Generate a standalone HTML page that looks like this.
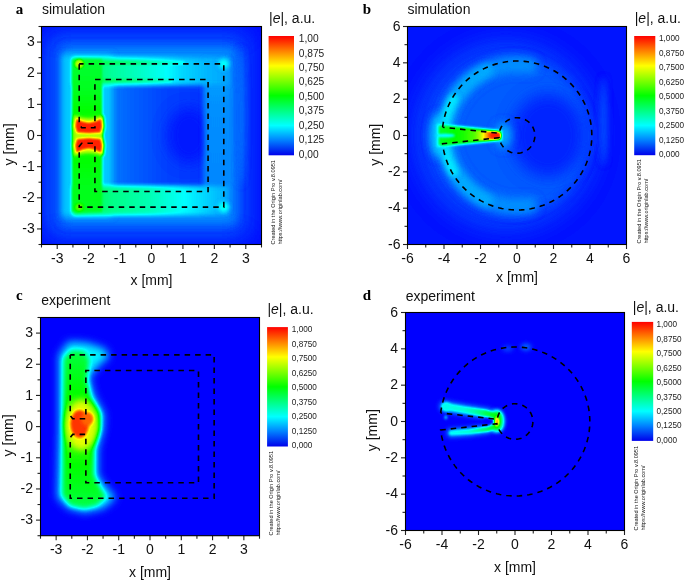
<!DOCTYPE html>
<html><head><meta charset="utf-8"><title>Field maps</title>
<style>html,body{margin:0;padding:0;background:#fff;overflow:hidden}svg{display:block}</style></head>
<body><svg width="685" height="582" viewBox="0 0 685 582" font-family='"Liberation Sans", Arial, sans-serif'>
<defs><filter id="cm" filterUnits="userSpaceOnUse" x="0" y="0" width="685" height="582" color-interpolation-filters="sRGB">
<feComponentTransfer>
<feFuncR type="table" tableValues="0 0 0 0 0 0.5 1 1 1"/>
<feFuncG type="table" tableValues="0 0.5 1 1 1 1 1 0.5 0"/>
<feFuncB type="table" tableValues="1 1 1 0.5 0 0 0 0 0"/>
</feComponentTransfer></filter>
<linearGradient id="cbg" x1="0" y1="1" x2="0" y2="0"><stop offset="0" stop-color="rgb(0,0,235)"/><stop offset="0.125" stop-color="rgb(0,128,255)"/><stop offset="0.25" stop-color="rgb(0,255,255)"/><stop offset="0.375" stop-color="rgb(0,255,128)"/><stop offset="0.5" stop-color="rgb(0,255,0)"/><stop offset="0.625" stop-color="rgb(128,255,0)"/><stop offset="0.75" stop-color="rgb(255,255,0)"/><stop offset="0.875" stop-color="rgb(255,128,0)"/><stop offset="1" stop-color="rgb(255,0,0)"/></linearGradient>
<clipPath id="ca"><rect x="41.5" y="26.5" width="220" height="218"/></clipPath>
<filter id="b12" filterUnits="userSpaceOnUse" x="0" y="0" width="685" height="582" color-interpolation-filters="sRGB"><feGaussianBlur stdDeviation="12"/></filter>
<filter id="b5" filterUnits="userSpaceOnUse" x="0" y="0" width="685" height="582" color-interpolation-filters="sRGB"><feGaussianBlur stdDeviation="5"/></filter>
<linearGradient id="hg1" gradientUnits="userSpaceOnUse" x1="96.5" y1="0" x2="206.5" y2="0"><stop offset="0" stop-color="#262626"/><stop offset="0.25" stop-color="#1a1a1a"/><stop offset="0.6" stop-color="#111111"/><stop offset="1" stop-color="#0d0d0d"/></linearGradient>
<filter id="b4" filterUnits="userSpaceOnUse" x="0" y="0" width="685" height="582" color-interpolation-filters="sRGB"><feGaussianBlur stdDeviation="4"/></filter>
<filter id="b7" filterUnits="userSpaceOnUse" x="0" y="0" width="685" height="582" color-interpolation-filters="sRGB"><feGaussianBlur stdDeviation="7"/></filter>
<filter id="b3" filterUnits="userSpaceOnUse" x="0" y="0" width="685" height="582" color-interpolation-filters="sRGB"><feGaussianBlur stdDeviation="3"/></filter>
<linearGradient id="hg2" gradientUnits="userSpaceOnUse" x1="0" y1="60.76" x2="0" y2="210.24"><stop offset="0" stop-color="#2b2b2b"/><stop offset="0.3" stop-color="#242424"/><stop offset="1" stop-color="#212121"/></linearGradient>
<filter id="b2_5" filterUnits="userSpaceOnUse" x="0" y="0" width="685" height="582" color-interpolation-filters="sRGB"><feGaussianBlur stdDeviation="2.5"/></filter>
<linearGradient id="hg3" gradientUnits="userSpaceOnUse" x1="72.93" y1="0" x2="228.5" y2="0"><stop offset="0" stop-color="#707070"/><stop offset="0.12" stop-color="#666666"/><stop offset="0.25" stop-color="#595959"/><stop offset="0.42" stop-color="#4f4f4f"/><stop offset="0.58" stop-color="#424242"/><stop offset="0.7" stop-color="#363636"/><stop offset="0.85" stop-color="#2e2e2e"/><stop offset="1" stop-color="#292929"/></linearGradient>
<filter id="b2_2" filterUnits="userSpaceOnUse" x="0" y="0" width="685" height="582" color-interpolation-filters="sRGB"><feGaussianBlur stdDeviation="2.2"/></filter>
<linearGradient id="hg4" gradientUnits="userSpaceOnUse" x1="88.64" y1="0" x2="182.93" y2="0"><stop offset="0" stop-color="#707070"/><stop offset="0.5" stop-color="#616161"/><stop offset="1" stop-color="#424242"/></linearGradient>
<filter id="b1_3" filterUnits="userSpaceOnUse" x="0" y="0" width="685" height="582" color-interpolation-filters="sRGB"><feGaussianBlur stdDeviation="1.3"/></filter>
<linearGradient id="hg5" gradientUnits="userSpaceOnUse" x1="72.93" y1="0" x2="228.5" y2="0"><stop offset="0" stop-color="#787878"/><stop offset="0.12" stop-color="#6b6b6b"/><stop offset="0.25" stop-color="#5e5e5e"/><stop offset="0.5" stop-color="#525252"/><stop offset="0.75" stop-color="#3d3d3d"/><stop offset="0.92" stop-color="#303030"/><stop offset="1" stop-color="#2b2b2b"/></linearGradient>
<linearGradient id="hg6" gradientUnits="userSpaceOnUse" x1="0" y1="59.2" x2="0" y2="211.8"><stop offset="0" stop-color="#737373"/><stop offset="0.2" stop-color="#787878"/><stop offset="0.35" stop-color="#808080"/><stop offset="0.42" stop-color="#8f8f8f"/><stop offset="0.5" stop-color="#9e9e9e"/><stop offset="0.58" stop-color="#8f8f8f"/><stop offset="0.65" stop-color="#808080"/><stop offset="0.8" stop-color="#7a7a7a"/><stop offset="1" stop-color="#787878"/></linearGradient>
<filter id="b2" filterUnits="userSpaceOnUse" x="0" y="0" width="685" height="582" color-interpolation-filters="sRGB"><feGaussianBlur stdDeviation="2"/></filter>
<filter id="b1_2" filterUnits="userSpaceOnUse" x="0" y="0" width="685" height="582" color-interpolation-filters="sRGB"><feGaussianBlur stdDeviation="1.2"/></filter>
<filter id="b1_5" filterUnits="userSpaceOnUse" x="0" y="0" width="685" height="582" color-interpolation-filters="sRGB"><feGaussianBlur stdDeviation="1.5"/></filter>
<filter id="b0_8" filterUnits="userSpaceOnUse" x="0" y="0" width="685" height="582" color-interpolation-filters="sRGB"><feGaussianBlur stdDeviation="0.8"/></filter>
<clipPath id="cb"><rect x="407.5" y="26.5" width="219" height="218"/></clipPath>
<filter id="b10" filterUnits="userSpaceOnUse" x="0" y="0" width="685" height="582" color-interpolation-filters="sRGB"><feGaussianBlur stdDeviation="10"/></filter>
<filter id="b8" filterUnits="userSpaceOnUse" x="0" y="0" width="685" height="582" color-interpolation-filters="sRGB"><feGaussianBlur stdDeviation="8"/></filter>
<linearGradient id="hg7" gradientUnits="userSpaceOnUse" x1="438.52" y1="0" x2="500.57" y2="0"><stop offset="0" stop-color="#757575"/><stop offset="0.4" stop-color="#858585"/><stop offset="0.58" stop-color="#949494"/><stop offset="0.68" stop-color="#adadad"/><stop offset="0.8" stop-color="#e0e0e0"/><stop offset="0.92" stop-color="#f7f7f7"/><stop offset="1" stop-color="#d9d9d9"/></linearGradient>
<filter id="b1_0" filterUnits="userSpaceOnUse" x="0" y="0" width="685" height="582" color-interpolation-filters="sRGB"><feGaussianBlur stdDeviation="1.0"/></filter>
<filter id="b1" filterUnits="userSpaceOnUse" x="0" y="0" width="685" height="582" color-interpolation-filters="sRGB"><feGaussianBlur stdDeviation="1"/></filter>
<clipPath id="cc"><rect x="40.5" y="317.5" width="219" height="218.2"/></clipPath>
<linearGradient id="hg8" gradientUnits="userSpaceOnUse" x1="0" y1="342.44" x2="0" y2="510.76"><stop offset="0" stop-color="#6b6b6b"/><stop offset="0.13" stop-color="#757575"/><stop offset="0.3" stop-color="#808080"/><stop offset="0.4" stop-color="#8f8f8f"/><stop offset="0.5" stop-color="#999999"/><stop offset="0.6" stop-color="#8f8f8f"/><stop offset="0.72" stop-color="#808080"/><stop offset="0.87" stop-color="#787878"/><stop offset="1" stop-color="#6b6b6b"/></linearGradient>
<clipPath id="cd"><rect x="405.5" y="312.5" width="219" height="218"/></clipPath>
<linearGradient id="hg9" gradientUnits="userSpaceOnUse" x1="443.82" y1="0" x2="496.75" y2="0"><stop offset="0" stop-color="#454545"/><stop offset="0.41" stop-color="#4a4a4a"/><stop offset="0.66" stop-color="#5c5c5c"/><stop offset="0.83" stop-color="#707070"/><stop offset="1" stop-color="#808080"/></linearGradient>
<linearGradient id="hg10" gradientUnits="userSpaceOnUse" x1="451.12" y1="0" x2="496.75" y2="0"><stop offset="0" stop-color="#424242"/><stop offset="0.4" stop-color="#4c4c4c"/><stop offset="0.68" stop-color="#616161"/><stop offset="0.88" stop-color="#737373"/><stop offset="1" stop-color="#808080"/></linearGradient></defs>
<g clip-path="url(#ca)"><g filter="url(#cm)">
<rect x="36.5" y="21.5" width="230" height="228" fill="#040404"/>
<rect x="47.79" y="35.84" width="198" height="199.31" fill="#1a1a1a" filter="url(#b12)"/>
<rect x="63.5" y="48.3" width="171.29" height="174.4" fill="#242424" filter="url(#b5)"/>
<rect x="96.5" y="81" width="110" height="109" fill="url(#hg1)" filter="url(#b4)"/>
<ellipse cx="189.21" cy="135.5" rx="22" ry="28.03" fill="#060606" filter="url(#b7)"/>
<ellipse cx="241.07" cy="116.81" rx="3.77" ry="68.51" fill="#1c1c1c" filter="url(#b3)"/>
<rect x="61.93" y="54.53" width="50.29" height="161.94" fill="#333333" filter="url(#b3)"/>
<rect x="204.3" y="59.2" width="24.2" height="152.6" fill="url(#hg2)" filter="url(#b2_5)"/>
<rect x="72.93" y="57.64" width="155.57" height="27.41" fill="url(#hg3)" filter="url(#b2_2)"/>
<path d="M88.64 62.94 L182.93 62.94" fill="none" stroke="url(#hg4)" stroke-width="3.77" stroke-linecap="round" stroke-linejoin="round" filter="url(#b1_3)"/>
<path d="M98.07 80.38 L170.36 80.38" fill="none" stroke="url(#hg4)" stroke-width="3.14" stroke-linecap="round" stroke-linejoin="round" filter="url(#b1_3)"/>
<rect x="72.93" y="185.95" width="155.57" height="28.96" fill="url(#hg5)" filter="url(#b2_2)"/>
<rect x="71.99" y="59.2" width="30.17" height="152.6" fill="url(#hg6)" filter="url(#b1_3)"/>
<ellipse cx="223.79" cy="63.87" rx="5.03" ry="4.98" fill="#424242" filter="url(#b2)"/>
<ellipse cx="223.79" cy="207.13" rx="5.03" ry="4.98" fill="#454545" filter="url(#b2)"/>
<ellipse cx="79.21" cy="63.87" rx="4.4" ry="4.36" fill="#adadad" filter="url(#b1_2)"/>
<ellipse cx="79.21" cy="207.13" rx="3.77" ry="3.74" fill="#999999" filter="url(#b1_5)"/>
<path d="M74.5 115.57 L82.36 118.06 L88.64 118.68 L94.93 118.06 L103.1 115.57 L104.36 126.16 L102.47 135.5 L88.64 136.12 L75.44 135.5 L72.93 126.16Z" fill="#b2b2b2" filter="url(#b1_5)"/>
<path d="M74.5 155.74 L82.36 153.25 L88.64 152.63 L94.93 153.25 L103.1 155.74 L104.36 145.15 L102.47 135.81 L88.64 135.19 L75.44 135.81 L72.93 145.15Z" fill="#b2b2b2" filter="url(#b1_5)"/>
<path d="M76.39 118.68 L82.36 121.49 L88.64 122.73 L94.93 121.49 L101.21 118.68 L102.16 126.16 L100.59 132.39 L88.64 133.32 L77.01 132.39 L75.13 126.16Z" fill="#f7f7f7" filter="url(#b0_8)"/>
<path d="M76.39 152.63 L82.36 149.83 L88.64 148.58 L94.93 149.83 L101.21 152.63 L102.16 145.15 L100.59 138.93 L88.64 137.99 L77.01 138.93 L75.13 145.15Z" fill="#f7f7f7" filter="url(#b0_8)"/>
</g></g>
<path d="M79.21 63.87 L223.79 63.87 L223.79 207.13 L79.21 207.13 L79.21 146.4 L81.73 143.29 L94.93 143.29 L94.93 191.56 L208.07 191.56 L208.07 79.44 L94.93 79.44 L94.93 127.71 L81.73 127.71 L79.21 124.6 L79.21 63.87" fill="none" stroke="#000" stroke-width="1.6" stroke-dasharray="5.5 5" stroke-dashoffset="1.1"/>
<g stroke="#222" stroke-width="1.1"><line x1="41.5" y1="244.5" x2="41.5" y2="247.5"/><line x1="41.5" y1="244.5" x2="38.5" y2="244.5"/><line x1="57.21" y1="244.5" x2="57.21" y2="249"/><line x1="41.5" y1="228.93" x2="37" y2="228.93"/><line x1="72.93" y1="244.5" x2="72.93" y2="247.5"/><line x1="41.5" y1="213.36" x2="38.5" y2="213.36"/><line x1="88.64" y1="244.5" x2="88.64" y2="249"/><line x1="41.5" y1="197.79" x2="37" y2="197.79"/><line x1="104.36" y1="244.5" x2="104.36" y2="247.5"/><line x1="41.5" y1="182.21" x2="38.5" y2="182.21"/><line x1="120.07" y1="244.5" x2="120.07" y2="249"/><line x1="41.5" y1="166.64" x2="37" y2="166.64"/><line x1="135.79" y1="244.5" x2="135.79" y2="247.5"/><line x1="41.5" y1="151.07" x2="38.5" y2="151.07"/><line x1="151.5" y1="244.5" x2="151.5" y2="249"/><line x1="41.5" y1="135.5" x2="37" y2="135.5"/><line x1="167.21" y1="244.5" x2="167.21" y2="247.5"/><line x1="41.5" y1="119.93" x2="38.5" y2="119.93"/><line x1="182.93" y1="244.5" x2="182.93" y2="249"/><line x1="41.5" y1="104.36" x2="37" y2="104.36"/><line x1="198.64" y1="244.5" x2="198.64" y2="247.5"/><line x1="41.5" y1="88.79" x2="38.5" y2="88.79"/><line x1="214.36" y1="244.5" x2="214.36" y2="249"/><line x1="41.5" y1="73.21" x2="37" y2="73.21"/><line x1="230.07" y1="244.5" x2="230.07" y2="247.5"/><line x1="41.5" y1="57.64" x2="38.5" y2="57.64"/><line x1="245.79" y1="244.5" x2="245.79" y2="249"/><line x1="41.5" y1="42.07" x2="37" y2="42.07"/><line x1="261.5" y1="244.5" x2="261.5" y2="247.5"/><line x1="41.5" y1="26.5" x2="38.5" y2="26.5"/></g>
<rect x="41.5" y="26.5" width="220" height="218" fill="none" stroke="#000" stroke-width="1.1"/>
<g font-size="14" fill="#111"><text x="57.21" y="263.2" text-anchor="middle">-3</text><text x="34.8" y="233.03" text-anchor="end">-3</text><text x="88.64" y="263.2" text-anchor="middle">-2</text><text x="34.8" y="201.89" text-anchor="end">-2</text><text x="120.07" y="263.2" text-anchor="middle">-1</text><text x="34.8" y="170.74" text-anchor="end">-1</text><text x="151.5" y="263.2" text-anchor="middle">0</text><text x="34.8" y="139.6" text-anchor="end">0</text><text x="182.93" y="263.2" text-anchor="middle">1</text><text x="34.8" y="108.46" text-anchor="end">1</text><text x="214.36" y="263.2" text-anchor="middle">2</text><text x="34.8" y="77.31" text-anchor="end">2</text><text x="245.79" y="263.2" text-anchor="middle">3</text><text x="34.8" y="46.17" text-anchor="end">3</text></g>
<text x="15.8" y="13.7" font-family='"Liberation Serif", "Times New Roman", serif' font-weight="bold" font-size="15" fill="#000">a</text>
<text x="42" y="13.7" font-size="14" fill="#111">simulation</text>
<text x="151.5" y="285.4" font-size="14" fill="#111" text-anchor="middle">x [mm]</text>
<text transform="translate(13.7 144.4) rotate(-90)" font-size="14" fill="#111" text-anchor="middle">y [mm]</text>
<rect x="268.6" y="36" width="25.4" height="119.3" fill="url(#cbg)"/>
<g font-size="10.2" fill="#222"><text x="298.8" y="42.07">1,00</text><text x="298.8" y="56.53">0,875</text><text x="298.8" y="70.99">0,750</text><text x="298.8" y="85.45">0,625</text><text x="298.8" y="99.91">0,500</text><text x="298.8" y="114.37">0,375</text><text x="298.8" y="128.83">0,250</text><text x="298.8" y="143.29">0,125</text><text x="298.8" y="157.75">0,00</text></g>
<text x="269" y="23" font-size="14" fill="#111">|<tspan font-style="italic">e</tspan>|, a.u.</text>
<g font-size="5.6" fill="#111">
<text transform="translate(274.6 244.5) rotate(-90)">Created in the Origin Pro v.8.0951</text>
<text transform="translate(282 244.5) rotate(-90)">https://www.originlab.com/</text>
</g>
<g clip-path="url(#cb)"><g filter="url(#cm)">
<rect x="402.5" y="21.5" width="229" height="228" fill="#050505"/>
<ellipse cx="506.05" cy="135.5" rx="91.25" ry="94.47" fill="#111111" filter="url(#b10)"/>
<ellipse cx="509.7" cy="135.5" rx="78.47" ry="78.12" fill="#171717" filter="url(#b5)"/>
<ellipse cx="548.02" cy="135.5" rx="36.5" ry="41.78" fill="#090909" filter="url(#b8)"/>
<ellipse cx="603.69" cy="120.97" rx="2.74" ry="43.6" fill="#171717" filter="url(#b3)"/>
<path d="M529.36 65.73 L524.44 65.04 L519.48 64.69 L514.52 64.69 L509.56 65.04 L504.64 65.73 L499.78 66.75 L495.01 68.12 L490.34 69.81 L485.8 71.82 L481.41 74.14 L477.2 76.76 L473.18 79.67 L469.37 82.85 L465.8 86.28 L462.48 89.96 L459.42 93.86 L456.64 97.96 L454.16 102.24 L451.98 106.68 L450.12 111.27 L448.58 115.97 L447.38 120.77 L446.52 125.64 L446 130.56 L445.82 135.5 L446 140.44 L446.52 145.36 L447.38 150.23 L448.58 155.03 L450.12 159.73 L451.98 164.32 L454.16 168.76 L456.64 173.04 L459.42 177.14 L462.48 181.04 L465.8 184.72 L469.37 188.15 L473.18 191.33 L477.2 194.24 L481.41 196.86 L485.8 199.18 L490.34 201.19 L495.01 202.88 L499.78 204.25 L504.64 205.27 L509.56 205.96 L514.52 206.31 L519.48 206.31 L524.44 205.96 L529.36 205.27" fill="none" stroke="#242424" stroke-width="16.43" stroke-linecap="round" stroke-linejoin="round" filter="url(#b4)"/>
<path d="M486.53 70.46 L482.88 72.29 L479.33 74.32 L475.91 76.54 L472.62 78.95 L469.47 81.55 L466.47 84.32 L463.64 87.25 L460.98 90.34 L458.5 93.58 L456.2 96.94 L454.1 100.44 L452.21 104.04 L450.52 107.75 L449.05 111.55 L447.79 115.42 L446.76 119.36 L445.95 123.35 L445.38 127.38 L445.03 131.43 L444.91 135.5 L445.03 139.57 L445.38 143.62 L445.95 147.65 L446.76 151.64 L447.79 155.58 L449.05 159.45 L450.52 163.25 L452.21 166.96 L454.1 170.56 L456.2 174.06 L458.5 177.42 L460.98 180.66 L463.64 183.75 L466.47 186.68 L469.47 189.45 L472.62 192.05 L475.91 194.46 L479.33 196.68 L482.88 198.71 L486.53 200.54" fill="none" stroke="#2b2b2b" stroke-width="12.77" stroke-linecap="round" stroke-linejoin="round" filter="url(#b3)"/>
<path d="M453.78 99.17 L452.54 101.39 L451.39 103.65 L450.31 105.94 L449.32 108.28 L448.4 110.65 L447.57 113.04 L446.83 115.47 L446.17 117.92 L445.6 120.39 L445.11 122.88 L444.71 125.39 L444.4 127.9 L444.18 130.43 L444.04 132.96 L444 135.5 L444.04 138.04 L444.18 140.57 L444.4 143.1 L444.71 145.61 L445.11 148.12 L445.6 150.61 L446.17 153.08 L446.83 155.53 L447.57 157.96 L448.4 160.35 L449.32 162.72 L450.31 165.06 L451.39 167.35 L452.54 169.61 L453.78 171.83" fill="none" stroke="#3b3b3b" stroke-width="9.12" stroke-linecap="round" stroke-linejoin="round" filter="url(#b2_5)"/>
<ellipse cx="438.52" cy="135.5" rx="8.21" ry="21.8" fill="#333333" filter="url(#b4)"/>
<ellipse cx="503.31" cy="135.5" rx="8.21" ry="12.72" fill="#2b2b2b" filter="url(#b4)"/>
<path d="M436.7 124.24 L438.52 123.51 L489.62 128.6 L502.4 130.05 L502.4 140.95 L489.62 142.4 L438.52 147.49 L436.7 146.76Z" fill="#424242" filter="url(#b1_3)"/>
<path d="M438.89 126.42 L442.18 125.33 L489.62 130.78 L500.57 131.87 L500.57 139.13 L489.62 140.22 L442.18 145.67 L438.89 144.58Z" fill="url(#hg7)" filter="url(#b1_0)"/>
<ellipse cx="444.91" cy="135.5" rx="10.04" ry="1.82" fill="#383838" filter="url(#b1)"/>
<ellipse cx="495.1" cy="135.5" rx="5.84" ry="2.54" fill="#f7f7f7" filter="url(#b1)"/>
</g></g>
<path d="M442.64 127.2 L443.07 124 L443.64 120.83 L444.35 117.68 L445.19 114.57 L446.17 111.5 L447.28 108.47 L448.52 105.49 L449.89 102.57 L451.38 99.71 L453 96.92 L454.73 94.19 L456.59 91.55 L458.56 88.99 L460.63 86.52 L462.81 84.13 L465.1 81.85 L467.48 79.66 L469.95 77.58 L472.51 75.61 L475.16 73.75 L477.88 72.01 L480.68 70.38 L483.54 68.88 L486.47 67.5 L489.46 66.25 L492.49 65.13 L495.57 64.14 L498.7 63.28 L501.85 62.56 L505.04 61.97 L508.24 61.53 L511.47 61.22 L514.7 61.05 L517.94 61.02 L521.18 61.13 L524.41 61.38 L527.62 61.77 L530.82 62.3 L533.98 62.96 L537.12 63.76 L540.22 64.69 L543.28 65.76 L546.28 66.96 L549.24 68.28 L552.13 69.74 L554.95 71.31 L557.71 73 L560.39 74.82 L562.98 76.74 L565.5 78.78 L567.92 80.92 L570.24 83.16 L572.47 85.51 L574.59 87.94 L576.6 90.47 L578.5 93.08 L580.29 95.77 L581.96 98.53 L583.5 101.36 L584.92 104.26 L586.22 107.21 L587.38 110.22 L588.42 113.28 L589.32 116.37 L590.08 119.51 L590.71 122.67 L591.2 125.86 L591.54 129.06 L591.75 132.28 L591.83 135.5 L591.75 138.72 L591.54 141.94 L591.2 145.14 L590.71 148.33 L590.08 151.49 L589.32 154.63 L588.42 157.72 L587.38 160.78 L586.22 163.79 L584.92 166.74 L583.5 169.64 L581.96 172.47 L580.29 175.23 L578.5 177.92 L576.6 180.53 L574.59 183.06 L572.47 185.49 L570.24 187.84 L567.92 190.08 L565.5 192.22 L562.98 194.26 L560.39 196.18 L557.71 198 L554.95 199.69 L552.13 201.26 L549.24 202.72 L546.28 204.04 L543.28 205.24 L540.22 206.31 L537.12 207.24 L533.98 208.04 L530.82 208.7 L527.62 209.23 L524.41 209.62 L521.18 209.87 L517.94 209.98 L514.7 209.95 L511.47 209.78 L508.24 209.47 L505.04 209.03 L501.85 208.44 L498.7 207.72 L495.57 206.86 L492.49 205.87 L489.46 204.75 L486.47 203.5 L483.54 202.12 L480.68 200.62 L477.88 198.99 L475.16 197.25 L472.51 195.39 L469.95 193.42 L467.48 191.34 L465.1 189.15 L462.81 186.87 L460.63 184.48 L458.56 182.01 L456.59 179.45 L454.73 176.81 L453 174.08 L451.38 171.29 L449.89 168.43 L448.52 165.51 L447.28 162.53 L446.17 159.5 L445.19 156.43 L444.35 153.32 L443.64 150.17 L443.07 147 L442.64 143.8 L499.3 137.68 L499.65 139.81 L500.3 141.86 L501.19 143.82 L502.31 145.65 L503.64 147.34 L505.17 148.85 L506.87 150.17 L508.72 151.28 L510.69 152.16 L512.75 152.79 L514.87 153.18 L517.03 153.3 L519.18 153.17 L521.3 152.78 L523.36 152.14 L525.33 151.25 L527.17 150.14 L528.87 148.82 L530.4 147.3 L531.73 145.6 L532.84 143.77 L533.73 141.81 L534.37 139.76 L534.75 137.64 L534.88 135.5 L534.75 133.36 L534.37 131.24 L533.73 129.19 L532.84 127.23 L531.73 125.4 L530.4 123.7 L528.87 122.18 L527.17 120.86 L525.33 119.75 L523.36 118.86 L521.3 118.22 L519.18 117.83 L517.03 117.7 L514.87 117.82 L512.75 118.21 L510.69 118.84 L508.72 119.72 L506.87 120.83 L505.17 122.15 L503.64 123.66 L502.31 125.35 L501.19 127.18 L500.3 129.14 L499.65 131.19 L499.25 133.3 L442.63 127.23" fill="none" stroke="#000" stroke-width="1.6" stroke-dasharray="5.5 5" stroke-dashoffset="0"/>
<g stroke="#222" stroke-width="1.1"><line x1="407.5" y1="244.5" x2="407.5" y2="249"/><line x1="407.5" y1="244.5" x2="403" y2="244.5"/><line x1="425.75" y1="244.5" x2="425.75" y2="247.5"/><line x1="407.5" y1="226.33" x2="404.5" y2="226.33"/><line x1="444" y1="244.5" x2="444" y2="249"/><line x1="407.5" y1="208.17" x2="403" y2="208.17"/><line x1="462.25" y1="244.5" x2="462.25" y2="247.5"/><line x1="407.5" y1="190" x2="404.5" y2="190"/><line x1="480.5" y1="244.5" x2="480.5" y2="249"/><line x1="407.5" y1="171.83" x2="403" y2="171.83"/><line x1="498.75" y1="244.5" x2="498.75" y2="247.5"/><line x1="407.5" y1="153.67" x2="404.5" y2="153.67"/><line x1="517" y1="244.5" x2="517" y2="249"/><line x1="407.5" y1="135.5" x2="403" y2="135.5"/><line x1="535.25" y1="244.5" x2="535.25" y2="247.5"/><line x1="407.5" y1="117.33" x2="404.5" y2="117.33"/><line x1="553.5" y1="244.5" x2="553.5" y2="249"/><line x1="407.5" y1="99.17" x2="403" y2="99.17"/><line x1="571.75" y1="244.5" x2="571.75" y2="247.5"/><line x1="407.5" y1="81" x2="404.5" y2="81"/><line x1="590" y1="244.5" x2="590" y2="249"/><line x1="407.5" y1="62.83" x2="403" y2="62.83"/><line x1="608.25" y1="244.5" x2="608.25" y2="247.5"/><line x1="407.5" y1="44.67" x2="404.5" y2="44.67"/><line x1="626.5" y1="244.5" x2="626.5" y2="249"/><line x1="407.5" y1="26.5" x2="403" y2="26.5"/></g>
<rect x="407.5" y="26.5" width="219" height="218" fill="none" stroke="#000" stroke-width="1.1"/>
<g font-size="14" fill="#111"><text x="407.5" y="262.8" text-anchor="middle">-6</text><text x="400.5" y="248.6" text-anchor="end">-6</text><text x="444" y="262.8" text-anchor="middle">-4</text><text x="400.5" y="212.27" text-anchor="end">-4</text><text x="480.5" y="262.8" text-anchor="middle">-2</text><text x="400.5" y="175.93" text-anchor="end">-2</text><text x="517" y="262.8" text-anchor="middle">0</text><text x="400.5" y="139.6" text-anchor="end">0</text><text x="553.5" y="262.8" text-anchor="middle">2</text><text x="400.5" y="103.27" text-anchor="end">2</text><text x="590" y="262.8" text-anchor="middle">4</text><text x="400.5" y="66.93" text-anchor="end">4</text><text x="626.5" y="262.8" text-anchor="middle">6</text><text x="400.5" y="30.6" text-anchor="end">6</text></g>
<text x="362.8" y="13.7" font-family='"Liberation Serif", "Times New Roman", serif' font-weight="bold" font-size="15" fill="#000">b</text>
<text x="407.4" y="13.7" font-size="14" fill="#111">simulation</text>
<text x="517" y="281.8" font-size="14" fill="#111" text-anchor="middle">x [mm]</text>
<text transform="translate(379.8 144.75) rotate(-90)" font-size="14" fill="#111" text-anchor="middle">y [mm]</text>
<rect x="634.2" y="36" width="21.1" height="119.2" fill="url(#cbg)"/>
<g font-size="8.2" fill="#222"><text x="659" y="41.35">1,000</text><text x="659" y="55.81">0,8750</text><text x="659" y="70.27">0,7500</text><text x="659" y="84.73">0,6250</text><text x="659" y="99.19">0,5000</text><text x="659" y="113.65">0,3750</text><text x="659" y="128.11">0,2500</text><text x="659" y="142.57">0,1250</text><text x="659" y="157.03">0,000</text></g>
<text x="634.7" y="23" font-size="14" fill="#111">|<tspan font-style="italic">e</tspan>|, a.u.</text>
<g font-size="5.6" fill="#111">
<text transform="translate(640.7 243.6) rotate(-90)">Created in the Origin Pro v.8.0951</text>
<text transform="translate(647.6 243.6) rotate(-90)">https://www.originlab.com/</text>
</g>
<g clip-path="url(#cc)"><g filter="url(#cm)">
<rect x="35.5" y="312.5" width="229" height="228.2" fill="#000000"/>
<path d="M59.27 354.91 L68.66 341.81 L87.43 343.06 L104.64 348.67 L109.33 356.46 L99.94 364.26 L88.99 376.73 L93.69 395.43 L103.7 413.51 L103.07 429.72 L97.44 449.04 L97.44 475.23 L106.2 487.38 L115.59 497.67 L103.07 508.27 L84.93 512.32 L68.66 508.27 L57.71 497.67 L59.27 430.34Z" fill="#3d3d3d" filter="url(#b4)"/>
<path d="M63.65 358.02 L71.79 350.23 L84.3 351.17 L88.99 359.58 L86.8 379.84 L90.56 396.99 L99.94 413.51 L99.32 429.72 L93.69 449.04 L93.69 475.23 L99.94 487.38 L105.57 496.74 L96.81 505.15 L84.3 508.27 L70.22 505.15 L62.4 495.18 L63.65 430.34Z" fill="url(#hg8)" filter="url(#b2_5)"/>
<ellipse cx="81.17" cy="425.04" rx="15.64" ry="24.94" fill="#b8b8b8" filter="url(#b3)"/>
<ellipse cx="79.61" cy="424.11" rx="9.39" ry="14.03" fill="#f2f2f2" filter="url(#b1_5)"/>
<ellipse cx="87.43" cy="418.81" rx="6.26" ry="6.86" fill="#e6e6e6" filter="url(#b1_5)"/>
</g></g>
<path d="M70.22 354.91 L214.14 354.91 L214.14 498.29 L70.22 498.29 L70.22 437.51 L72.72 434.39 L85.86 434.39 L85.86 482.71 L198.49 482.71 L198.49 370.49 L85.86 370.49 L85.86 418.81 L72.72 418.81 L70.22 415.69 L70.22 354.91" fill="none" stroke="#000" stroke-width="1.6" stroke-dasharray="5.5 5" stroke-dashoffset="1.1"/>
<g stroke="#222" stroke-width="1.1"><line x1="40.5" y1="535.7" x2="40.5" y2="538.7"/><line x1="40.5" y1="535.7" x2="37.5" y2="535.7"/><line x1="56.14" y1="535.7" x2="56.14" y2="540.2"/><line x1="40.5" y1="520.11" x2="36" y2="520.11"/><line x1="71.79" y1="535.7" x2="71.79" y2="538.7"/><line x1="40.5" y1="504.53" x2="37.5" y2="504.53"/><line x1="87.43" y1="535.7" x2="87.43" y2="540.2"/><line x1="40.5" y1="488.94" x2="36" y2="488.94"/><line x1="103.07" y1="535.7" x2="103.07" y2="538.7"/><line x1="40.5" y1="473.36" x2="37.5" y2="473.36"/><line x1="118.71" y1="535.7" x2="118.71" y2="540.2"/><line x1="40.5" y1="457.77" x2="36" y2="457.77"/><line x1="134.36" y1="535.7" x2="134.36" y2="538.7"/><line x1="40.5" y1="442.19" x2="37.5" y2="442.19"/><line x1="150" y1="535.7" x2="150" y2="540.2"/><line x1="40.5" y1="426.6" x2="36" y2="426.6"/><line x1="165.64" y1="535.7" x2="165.64" y2="538.7"/><line x1="40.5" y1="411.01" x2="37.5" y2="411.01"/><line x1="181.29" y1="535.7" x2="181.29" y2="540.2"/><line x1="40.5" y1="395.43" x2="36" y2="395.43"/><line x1="196.93" y1="535.7" x2="196.93" y2="538.7"/><line x1="40.5" y1="379.84" x2="37.5" y2="379.84"/><line x1="212.57" y1="535.7" x2="212.57" y2="540.2"/><line x1="40.5" y1="364.26" x2="36" y2="364.26"/><line x1="228.21" y1="535.7" x2="228.21" y2="538.7"/><line x1="40.5" y1="348.67" x2="37.5" y2="348.67"/><line x1="243.86" y1="535.7" x2="243.86" y2="540.2"/><line x1="40.5" y1="333.09" x2="36" y2="333.09"/><line x1="259.5" y1="535.7" x2="259.5" y2="538.7"/><line x1="40.5" y1="317.5" x2="37.5" y2="317.5"/></g>
<rect x="40.5" y="317.5" width="219" height="218.2" fill="none" stroke="#000" stroke-width="1.1"/>
<g font-size="14" fill="#111"><text x="56.14" y="553.9" text-anchor="middle">-3</text><text x="33" y="524.21" text-anchor="end">-3</text><text x="87.43" y="553.9" text-anchor="middle">-2</text><text x="33" y="493.04" text-anchor="end">-2</text><text x="118.71" y="553.9" text-anchor="middle">-1</text><text x="33" y="461.87" text-anchor="end">-1</text><text x="150" y="553.9" text-anchor="middle">0</text><text x="33" y="430.7" text-anchor="end">0</text><text x="181.29" y="553.9" text-anchor="middle">1</text><text x="33" y="399.53" text-anchor="end">1</text><text x="212.57" y="553.9" text-anchor="middle">2</text><text x="33" y="368.36" text-anchor="end">2</text><text x="243.86" y="553.9" text-anchor="middle">3</text><text x="33" y="337.19" text-anchor="end">3</text></g>
<text x="16.1" y="299.5" font-family='"Liberation Serif", "Times New Roman", serif' font-weight="bold" font-size="15" fill="#000">c</text>
<text x="41.2" y="305.1" font-size="14" fill="#111">experiment</text>
<text x="150" y="576.7" font-size="14" fill="#111" text-anchor="middle">x [mm]</text>
<text transform="translate(13.1 435.4) rotate(-90)" font-size="14" fill="#111" text-anchor="middle">y [mm]</text>
<rect x="267.1" y="327.1" width="20.8" height="119.4" fill="url(#cbg)"/>
<g font-size="8.2" fill="#222"><text x="291.8" y="332.45">1,000</text><text x="291.8" y="346.91">0,8750</text><text x="291.8" y="361.37">0,7500</text><text x="291.8" y="375.83">0,6250</text><text x="291.8" y="390.29">0,5000</text><text x="291.8" y="404.75">0,3750</text><text x="291.8" y="419.21">0,2500</text><text x="291.8" y="433.67">0,1250</text><text x="291.8" y="448.13">0,000</text></g>
<text x="267.4" y="314" font-size="14" fill="#111">|<tspan font-style="italic">e</tspan>|, a.u.</text>
<g font-size="5.6" fill="#111">
<text transform="translate(272.7 535.4) rotate(-90)">Created in the Origin Pro v.8.0951</text>
<text transform="translate(280 535.4) rotate(-90)">https://www.originlab.com/</text>
</g>
<g clip-path="url(#cd)"><g filter="url(#cm)">
<rect x="400.5" y="307.5" width="229" height="228" fill="#000000"/>
<ellipse cx="525.95" cy="347.02" rx="5.47" ry="3.63" fill="#1a1a1a" filter="url(#b2)"/>
<ellipse cx="507.7" cy="348.83" rx="5.47" ry="2.72" fill="#121212" filter="url(#b2)"/>
<path d="M444.74 406.42 L465.73 410.06 L486.17 413.32 L496.75 416.96" fill="none" stroke="#333333" stroke-width="9.49" stroke-linecap="round" stroke-linejoin="round" filter="url(#b2_5)"/>
<path d="M451.12 432.94 L469.38 431.67 L487.62 429.13 L496.75 425.5" fill="none" stroke="#333333" stroke-width="7.3" stroke-linecap="round" stroke-linejoin="round" filter="url(#b2_5)"/>
<path d="M444.74 406.42 L465.73 410.06 L486.17 413.32 L496.75 416.96" fill="none" stroke="url(#hg9)" stroke-width="6.21" stroke-linecap="round" stroke-linejoin="round" filter="url(#b1_2)"/>
<path d="M451.12 432.94 L469.38 431.67 L487.62 429.13 L496.75 425.5" fill="none" stroke="url(#hg10)" stroke-width="4.38" stroke-linecap="round" stroke-linejoin="round" filter="url(#b1_2)"/>
<ellipse cx="446.56" cy="406.97" rx="4.56" ry="4.36" fill="#454545" filter="url(#b1_5)"/>
<ellipse cx="445.83" cy="417.32" rx="1.46" ry="2.18" fill="#333333" filter="url(#b1)"/>
<ellipse cx="497.12" cy="421.14" rx="6.57" ry="10.9" fill="#7a7a7a" filter="url(#b2)"/>
<ellipse cx="488.54" cy="421.5" rx="6.39" ry="3.63" fill="#000000" filter="url(#b1_5)"/>
<ellipse cx="496.75" cy="421.5" rx="2.19" ry="5.45" fill="#b8b8b8" filter="url(#b1_2)"/>
<ellipse cx="497.3" cy="421.5" rx="1.46" ry="2.91" fill="#d9d9d9" filter="url(#b1)"/>
</g></g>
<path d="M440.67 412.94 L441.11 409.75 L441.69 406.58 L442.41 403.44 L443.26 400.33 L444.25 397.27 L445.36 394.25 L446.61 391.28 L447.99 388.36 L449.49 385.51 L451.11 382.73 L452.86 380.01 L454.72 377.38 L456.69 374.83 L458.77 372.36 L460.96 369.99 L463.24 367.71 L465.63 365.53 L468.1 363.46 L470.67 361.5 L473.31 359.65 L476.04 357.91 L478.84 356.29 L481.7 354.8 L484.63 353.43 L487.61 352.19 L490.65 351.07 L493.73 350.09 L496.85 349.24 L500 348.53 L503.18 347.95 L506.39 347.51 L509.61 347.21 L512.84 347.05 L516.07 347.02 L519.31 347.14 L522.53 347.39 L525.74 347.79 L528.93 348.32 L532.1 348.99 L535.23 349.79 L538.32 350.73 L541.38 351.8 L544.38 353 L547.32 354.33 L550.21 355.78 L553.03 357.36 L555.78 359.05 L558.45 360.86 L561.05 362.79 L563.55 364.83 L565.97 366.97 L568.29 369.21 L570.51 371.55 L572.63 373.99 L574.63 376.51 L576.53 379.12 L578.31 381.81 L579.98 384.57 L581.52 387.4 L582.94 390.29 L584.23 393.24 L585.39 396.25 L586.42 399.3 L587.32 402.39 L588.08 405.52 L588.71 408.68 L589.2 411.87 L589.55 415.07 L589.76 418.28 L589.83 421.5 L589.76 424.72 L589.55 427.93 L589.2 431.13 L588.71 434.32 L588.08 437.48 L587.32 440.61 L586.42 443.7 L585.39 446.75 L584.23 449.76 L582.94 452.71 L581.52 455.6 L579.98 458.43 L578.31 461.19 L576.53 463.88 L574.63 466.49 L572.63 469.01 L570.51 471.45 L568.29 473.79 L565.97 476.03 L563.55 478.17 L561.05 480.21 L558.45 482.14 L555.78 483.95 L553.03 485.64 L550.21 487.22 L547.32 488.67 L544.38 490 L541.38 491.2 L538.32 492.27 L535.23 493.21 L532.1 494.01 L528.93 494.68 L525.74 495.21 L522.53 495.61 L519.31 495.86 L516.07 495.98 L512.84 495.95 L509.61 495.79 L506.39 495.49 L503.18 495.05 L500 494.47 L496.85 493.76 L493.73 492.91 L490.65 491.93 L487.61 490.81 L484.63 489.57 L481.7 488.2 L478.84 486.71 L476.04 485.09 L473.31 483.35 L470.67 481.5 L468.1 479.54 L465.63 477.47 L463.24 475.29 L460.96 473.01 L458.77 470.64 L456.69 468.17 L454.72 465.62 L452.86 462.99 L451.11 460.27 L449.49 457.49 L447.99 454.64 L446.61 451.72 L445.36 448.75 L444.25 445.73 L443.26 442.67 L442.41 439.56 L441.69 436.42 L441.11 433.25 L440.67 430.06 L496.93 423.68 L497.65 425.81 L498.3 427.86 L499.19 429.82 L500.31 431.65 L501.64 433.34 L503.17 434.85 L504.87 436.17 L506.72 437.28 L508.69 438.16 L510.75 438.79 L512.87 439.18 L515.03 439.3 L517.18 439.17 L519.3 438.78 L521.36 438.14 L523.33 437.25 L525.17 436.14 L526.87 434.82 L528.4 433.3 L529.73 431.6 L530.84 429.77 L531.73 427.81 L532.37 425.76 L532.75 423.64 L532.88 421.5 L532.75 419.36 L532.37 417.24 L531.73 415.19 L530.84 413.23 L529.73 411.4 L528.4 409.7 L526.87 408.18 L525.17 406.86 L523.33 405.75 L521.36 404.86 L519.3 404.22 L517.18 403.83 L515.03 403.7 L512.87 403.82 L510.75 404.21 L508.69 404.84 L506.72 405.72 L504.87 406.83 L503.17 408.15 L501.64 409.66 L500.31 411.35 L499.19 413.18 L498.3 415.14 L497.65 417.19 L497.25 419.3 L440.72 412.96" fill="none" stroke="#000" stroke-width="1.6" stroke-dasharray="5.5 5" stroke-dashoffset="0"/>
<g stroke="#222" stroke-width="1.1"><line x1="405.5" y1="530.5" x2="405.5" y2="535"/><line x1="405.5" y1="530.5" x2="401" y2="530.5"/><line x1="423.75" y1="530.5" x2="423.75" y2="533.5"/><line x1="405.5" y1="512.33" x2="402.5" y2="512.33"/><line x1="442" y1="530.5" x2="442" y2="535"/><line x1="405.5" y1="494.17" x2="401" y2="494.17"/><line x1="460.25" y1="530.5" x2="460.25" y2="533.5"/><line x1="405.5" y1="476" x2="402.5" y2="476"/><line x1="478.5" y1="530.5" x2="478.5" y2="535"/><line x1="405.5" y1="457.83" x2="401" y2="457.83"/><line x1="496.75" y1="530.5" x2="496.75" y2="533.5"/><line x1="405.5" y1="439.67" x2="402.5" y2="439.67"/><line x1="515" y1="530.5" x2="515" y2="535"/><line x1="405.5" y1="421.5" x2="401" y2="421.5"/><line x1="533.25" y1="530.5" x2="533.25" y2="533.5"/><line x1="405.5" y1="403.33" x2="402.5" y2="403.33"/><line x1="551.5" y1="530.5" x2="551.5" y2="535"/><line x1="405.5" y1="385.17" x2="401" y2="385.17"/><line x1="569.75" y1="530.5" x2="569.75" y2="533.5"/><line x1="405.5" y1="367" x2="402.5" y2="367"/><line x1="588" y1="530.5" x2="588" y2="535"/><line x1="405.5" y1="348.83" x2="401" y2="348.83"/><line x1="606.25" y1="530.5" x2="606.25" y2="533.5"/><line x1="405.5" y1="330.67" x2="402.5" y2="330.67"/><line x1="624.5" y1="530.5" x2="624.5" y2="535"/><line x1="405.5" y1="312.5" x2="401" y2="312.5"/></g>
<rect x="405.5" y="312.5" width="219" height="218" fill="none" stroke="#000" stroke-width="1.1"/>
<g font-size="14" fill="#111"><text x="405.5" y="548.9" text-anchor="middle">-6</text><text x="398" y="534.6" text-anchor="end">-6</text><text x="442" y="548.9" text-anchor="middle">-4</text><text x="398" y="498.27" text-anchor="end">-4</text><text x="478.5" y="548.9" text-anchor="middle">-2</text><text x="398" y="461.93" text-anchor="end">-2</text><text x="515" y="548.9" text-anchor="middle">0</text><text x="398" y="425.6" text-anchor="end">0</text><text x="551.5" y="548.9" text-anchor="middle">2</text><text x="398" y="389.27" text-anchor="end">2</text><text x="588" y="548.9" text-anchor="middle">4</text><text x="398" y="352.93" text-anchor="end">4</text><text x="624.5" y="548.9" text-anchor="middle">6</text><text x="398" y="316.6" text-anchor="end">6</text></g>
<text x="362.8" y="299.5" font-family='"Liberation Serif", "Times New Roman", serif' font-weight="bold" font-size="15" fill="#000">d</text>
<text x="405.7" y="300.8" font-size="14" fill="#111">experiment</text>
<text x="515" y="571.7" font-size="14" fill="#111" text-anchor="middle">x [mm]</text>
<text transform="translate(377 430.2) rotate(-90)" font-size="14" fill="#111" text-anchor="middle">y [mm]</text>
<rect x="631.8" y="321.9" width="21.4" height="119" fill="url(#cbg)"/>
<g font-size="8.2" fill="#222"><text x="656.5" y="327.25">1,000</text><text x="656.5" y="341.71">0,8750</text><text x="656.5" y="356.17">0,7500</text><text x="656.5" y="370.63">0,6250</text><text x="656.5" y="385.09">0,5000</text><text x="656.5" y="399.55">0,3750</text><text x="656.5" y="414.01">0,2500</text><text x="656.5" y="428.47">0,1250</text><text x="656.5" y="442.93">0,000</text></g>
<text x="632.8" y="311.7" font-size="14" fill="#111">|<tspan font-style="italic">e</tspan>|, a.u.</text>
<g font-size="5.6" fill="#111">
<text transform="translate(637.7 530.4) rotate(-90)">Created in the Origin Pro v.8.0951</text>
<text transform="translate(645 530.4) rotate(-90)">https://www.originlab.com/</text>
</g>
</svg></body></html>
